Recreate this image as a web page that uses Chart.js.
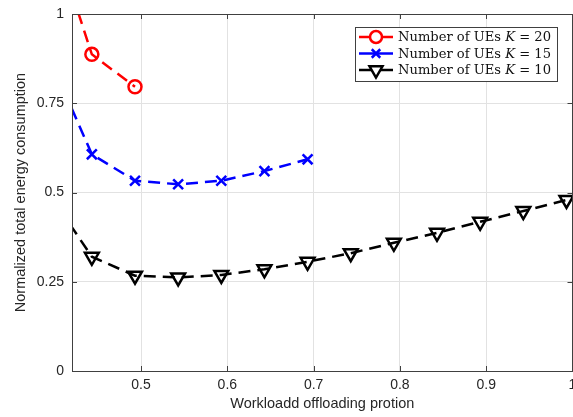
<!DOCTYPE html>
<html>
<head>
<meta charset="utf-8">
<script src="https://cdn.jsdelivr.net/npm/chart.js@4.4.0/dist/chart.umd.min.js"></script>
<style>
  body { margin: 0; background: #fff; }
  /* canvas is a bit wider than the page: chart.js keeps room for the last marker on the right */
  #wrap { width: 573px; height: 417px; overflow: hidden; }
</style>
</head>
<body>
<div id="wrap"><canvas id="energyChart" width="583" height="417"></canvas></div>
<script>
// workload offloading portion (first point sits left of the visible range)
const xValues = [0.393, 0.443, 0.493, 0.543, 0.593, 0.643, 0.693, 0.743, 0.793, 0.843, 0.893, 0.943, 0.993];
const energyK20 = [1.257, 0.887, 0.796];
const energyK15 = [0.882, 0.607, 0.533, 0.523, 0.533, 0.560, 0.593];
const energyK10 = [0.499, 0.320, 0.267, 0.262, 0.269, 0.285, 0.306, 0.330, 0.359, 0.387, 0.418, 0.448, 0.479];
const xTicks = [0.5, 0.6, 0.7, 0.8, 0.9, 1];
const xTickLabels = ['0.5', '0.6', '0.7', '0.8', '0.9', '1'];
const yTicks = [0, 0.25, 0.5, 0.75, 1];
const yTickLabels = ['0', '0.25', '0.5', '0.75', '1'];
const seriesNames = ['20', '15', '10'];

const X_MIN = 0.42;
const toPoints = vals => vals.map((v, i) => ({ x: xValues[i], y: v }));
const radiusFor = r => ctx => (ctx.raw && ctx.raw.x < X_MIN ? 0 : r);

const axisColor = '#404040';
const gridColor = '#e2e2e2';
const sans = "'Liberation Sans', Arial, sans-serif";

function makeSet(vals, color, style, r, rot) {
  return {
    data: toPoints(vals),
    borderColor: color,
    backgroundColor: 'rgba(0,0,0,0)',
    borderWidth: 2.5,
    borderDash: [12, 7],
    tension: 0,
    pointStyle: style,
    pointRotation: rot,
    pointRadius: radiusFor(r),
    pointHoverRadius: radiusFor(r),
    pointBorderColor: color,
    pointBackgroundColor: 'rgba(0,0,0,0)',
    pointBorderWidth: 2.5
  };
}

const datasets = [
  makeSet(energyK20, '#ff0000', 'circle', 6.5, 0),
  makeSet(energyK15, '#0000ff', 'crossRot', 7, 0),
  makeSet(energyK10, '#000000', 'triangle', 8, 180)
];

// box around plot area + inward ticks, like matlab
const framePlugin = {
  id: 'frame',
  afterDraw(chart) {
    const { ctx, chartArea: a, scales } = chart;
    ctx.save();
    ctx.strokeStyle = axisColor;
    ctx.lineWidth = 1;
    ctx.beginPath();
    xTicks.forEach(v => {
      const px = Math.round(scales.x.getPixelForValue(v)) + 0.5;
      ctx.moveTo(px, a.bottom); ctx.lineTo(px, a.bottom - 5);
      ctx.moveTo(px, a.top); ctx.lineTo(px, a.top + 5);
    });
    yTicks.forEach(v => {
      const py = Math.round(scales.y.getPixelForValue(v)) + 0.5;
      ctx.moveTo(a.left, py); ctx.lineTo(a.left + 5, py);
      ctx.moveTo(a.right, py); ctx.lineTo(a.right - 5, py);
    });
    ctx.stroke();
    ctx.strokeRect(Math.round(a.left) + 0.5, Math.round(a.top) + 0.5,
      Math.round(a.right - a.left) - 1, Math.round(a.bottom - a.top));
    ctx.restore();
  }
};

// legend box with italic K
const legendPlugin = {
  id: 'texLegend',
  afterDraw(chart) {
    const ctx = chart.ctx;
    const bx = 355.5, by = 27.5, bw = 202, bh = 54;
    const serif = "'DejaVu Serif', 'Liberation Serif', serif";
    ctx.save();
    ctx.fillStyle = '#fff';
    ctx.fillRect(bx, by, bw, bh);
    ctx.strokeStyle = axisColor;
    ctx.lineWidth = 1;
    ctx.strokeRect(bx, by, bw, bh);
    const rows = [37, 53.5, 70];
    datasets.forEach((ds, i) => {
      const y = rows[i];
      ctx.strokeStyle = ds.borderColor;
      ctx.fillStyle = '#fff';
      ctx.lineWidth = 2.5;
      ctx.setLineDash([]);
      ctx.beginPath();
      ctx.moveTo(359, y); ctx.lineTo(393, y);
      ctx.stroke();
      Chart.helpers.drawPoint(ctx, {
        pointStyle: ds.pointStyle, radius: ds.pointStyle === 'triangle' ? 7.5 : 6,
        rotation: ds.pointRotation, borderWidth: 2.5
      }, 376, y);
      const parts = [['Number of UEs ', ''], ['K', 'italic '], [' = ' + seriesNames[i], '']];
      // fit the row text into the box width
      let w = 0;
      parts.forEach(([t, st]) => { ctx.font = st + '13px ' + serif; w += ctx.measureText(t).width; });
      const size = Math.min(14, 13 * 153 / w);
      ctx.fillStyle = '#111';
      ctx.textBaseline = 'middle';
      let tx = 398;
      parts.forEach(([t, st]) => {
        ctx.font = st + size.toFixed(2) + 'px ' + serif;
        ctx.fillText(t, tx, y + 1);
        tx += ctx.measureText(t).width;
      });
    });
    ctx.restore();
  }
};

new Chart(document.getElementById('energyChart'), {
  type: 'line',
  data: { datasets: datasets },
  options: {
    responsive: false,
    animation: false,
    layout: { padding: { top: 14, right: 1, left: 0, bottom: 0 } },
    plugins: { legend: { display: false }, tooltip: { enabled: false } },
    scales: {
      x: {
        type: 'linear',
        min: X_MIN,
        max: 1,
        afterBuildTicks: s => { s.ticks = xTicks.map(v => ({ value: v })); },
        afterFit: s => { s.height = 46; s.paddingLeft = 0; s.paddingRight = 0; },
        grid: { color: gridColor, drawTicks: false },
        border: { display: false },
        ticks: {
          padding: 6,
          color: '#262626',
          font: { family: sans, size: 14 },
          callback: v => xTickLabels[xTicks.indexOf(v)] ?? ''
        },
        title: {
          display: true,
          text: 'Workloadd offloading protion',
          color: '#262626',
          font: { family: sans, size: 14.5 },
          padding: { top: 0, bottom: 4 }
        }
      },
      y: {
        min: 0,
        max: 1,
        afterBuildTicks: s => { s.ticks = yTicks.map(v => ({ value: v })); },
        afterFit: s => { s.width = 72; s.paddingTop = 0; s.paddingBottom = 0; },
        grid: { color: gridColor, drawTicks: false },
        border: { display: false },
        ticks: {
          padding: 8,
          color: '#262626',
          font: { family: sans, size: 14 },
          callback: v => yTickLabels[yTicks.indexOf(v)] ?? ''
        },
        title: {
          display: true,
          text: 'Normalized total energy consumption',
          color: '#262626',
          font: { family: sans, size: 14.5 },
          padding: { top: 12, bottom: 0 }
        }
      }
    }
  },
  plugins: [framePlugin, legendPlugin]
});
</script>
</body>
</html>
